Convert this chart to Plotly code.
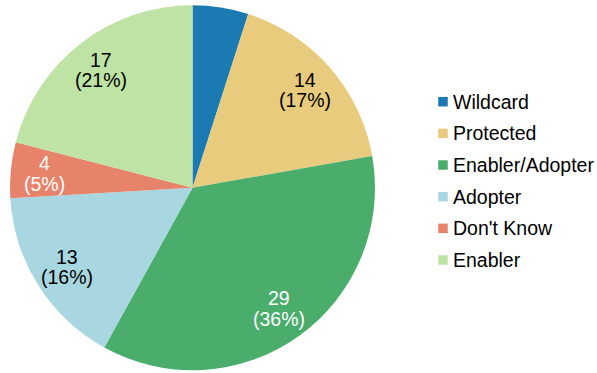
import math
import plotly.graph_objects as go

# Survey responses by category
categories = ["Wildcard", "Protected", "Enabler/Adopter", "Adopter", "Don't Know", "Enabler"]
counts = [4, 14, 29, 13, 4, 17]
colors = ["#1a7ab1", "#e9cb7e", "#4aad6c", "#a8d7e1", "#e7836a", "#bee3a4"]
label_colors = ["#ffffff", "#000000", "#ffffff", "#000000", "#ffffff", "#000000"]
# The Wildcard slice carries no value label
show_label = [False, True, True, True, True, True]

W, H = 597, 373
FONT = "Liberation Sans, Arial, Helvetica, sans-serif"
FS = 19.5

# Pie placement in pixels
PIE_LEFT, PIE_RIGHT, PIE_TOP, PIE_BOTTOM = 10, 375, 5, 370.5
cx = (PIE_LEFT + PIE_RIGHT) / 2
cy = (PIE_TOP + PIE_BOTTOM) / 2
radius = (PIE_RIGHT - PIE_LEFT) / 2
LABEL_R = 0.815 * radius
LINE_GAP = 10.3  # half the distance between the two label lines

fig = go.Figure(
    go.Pie(
        labels=categories,
        values=counts,
        sort=False,
        direction="clockwise",
        rotation=0,
        marker=dict(colors=colors, line=dict(width=0)),
        textinfo="none",
        hoverinfo="label+value+percent",
        showlegend=False,
        domain=dict(
            x=[PIE_LEFT / W, PIE_RIGHT / W],
            y=[1 - PIE_BOTTOM / H, 1 - PIE_TOP / H],
        ),
    )
)

# Value / percentage labels, placed on each slice's bisector
total = sum(counts)
annotations = []
cum = 0
for cat, c, col, show in zip(categories, counts, label_colors, show_label):
    mid = (cum + c / 2) / total * 2 * math.pi
    cum += c
    if not show:
        continue
    px = cx + LABEL_R * math.sin(mid)
    py = cy - LABEL_R * math.cos(mid)
    pct = round(100 * c / total)
    for txt, shift in ((str(c), LINE_GAP), (f"({pct}%)", -LINE_GAP)):
        annotations.append(
            dict(
                x=px / W, y=1 - py / H, xref="paper", yref="paper",
                text=txt, showarrow=False, xanchor="center", yanchor="middle",
                yshift=shift, font=dict(family=FONT, size=FS, color=col),
            )
        )

# Legend: colour squares with category names
LEG_X, LEG_Y0, LEG_STEP, SQ = 443, 101.7, 31.66, 9.5
shapes = []
for i, (cat, col) in enumerate(zip(categories, colors)):
    yc = LEG_Y0 + i * LEG_STEP
    shapes.append(
        dict(
            type="rect", xref="paper", yref="paper",
            x0=(LEG_X - SQ / 2) / W, x1=(LEG_X + SQ / 2) / W,
            y0=1 - (yc + SQ / 2) / H, y1=1 - (yc - SQ / 2) / H,
            fillcolor=col, line=dict(width=0),
        )
    )
    annotations.append(
        dict(
            x=(LEG_X + 8) / W, y=1 - yc / H, xref="paper", yref="paper",
            text=cat, showarrow=False, xanchor="left", yanchor="middle",
            font=dict(family=FONT, size=FS, color="#000000"),
        )
    )

fig.update_layout(
    width=W,
    height=H,
    margin=dict(l=0, r=0, t=0, b=0),
    paper_bgcolor="white",
    plot_bgcolor="white",
    font=dict(family=FONT, size=FS, color="#000000"),
    showlegend=False,
    annotations=annotations,
    shapes=shapes,
)

fig.write_html("out.html")
